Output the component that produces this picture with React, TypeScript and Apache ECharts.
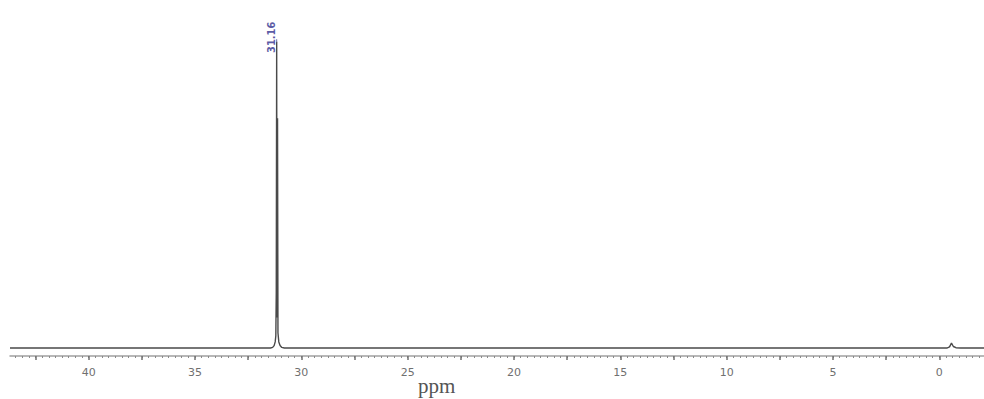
import React, { useEffect, useRef } from "react";
import * as echarts from "echarts";

// Chemical shift (ppm) and intensity of the spectrum trace
const shift = [
  43.7, 36.0, 31.45, 31.35, 31.28, 31.23, 31.2, 31.18, 31.16, 31.15, 31.14, 31.12,
  31.1, 31.06, 31.0, 30.92, 30.8, 20.0, 8.0, 0.2, -0.35, -0.48, -0.57, -0.66, -0.78, -1.0, -2.1,
];
const intensity = [
  0, 0, 0, 0.2, 0.8, 2.0, 4.0, 18, 100, 30, 10, 75,
  5, 2.0, 0.8, 0.2, 0, 0, 0, 0, 0, 0.4, 1.6, 0.5, 0.1, 0, 0,
];

// Axis ticks
const labelValues = [0, 5, 10, 15, 20, 25, 30, 35, 40];
const midTickValues = [0, 2.5, 5, 7.5, 10, 12.5, 15, 17.5, 20, 22.5, 25, 27.5, 30, 32.5, 35, 37.5, 40, 42.5];
const peakLabel = { shift: 31.16, text: "31.16" };

const X_MIN = -2.1;
const X_MAX = 43.7;

function minorTicks(): number[] {
  const out: number[] = [];
  const step = 2.5 / 8;
  for (let i = -6; i <= 140; i++) {
    const v = Math.round(i * step * 10000) / 10000;
    if (v >= X_MIN && v <= X_MAX) out.push(v);
  }
  return out;
}

export default function App() {
  const ref = useRef<HTMLDivElement>(null);

  useEffect(() => {
    if (!ref.current) return;
    const chart = echarts.init(ref.current, null, { renderer: "svg" });
    const data = shift.map((s, i) => [s, intensity[i]]);
    const peakIdx = shift.indexOf(peakLabel.shift);

    const baseAxis = {
      type: "value" as const,
      min: X_MIN,
      max: X_MAX,
      inverse: true,
      position: "bottom" as const,
      splitLine: { show: false },
    };

    chart.setOption({
      animation: false,
      backgroundColor: "#ffffff",
      grid: { left: 10, right: 0, top: 5, bottom: 43 },
      xAxis: [
        {
          ...baseAxis,
          axisLine: { show: true, onZero: false, lineStyle: { color: "#a0a0a0", width: 1.5 } },
          axisTick: {
            show: true,
            customValues: minorTicks(),
            length: 2,
            lineStyle: { color: "#8a8a8a", width: 1 },
          },
          axisLabel: { show: false },
        },
        {
          ...baseAxis,
          axisLine: { show: false, onZero: false },
          axisTick: {
            show: true,
            customValues: midTickValues,
            length: 4,
            lineStyle: { color: "#707070", width: 1.5 },
          },
          axisLabel: {
            show: true,
            customValues: labelValues,
            color: "#707070",
            fontFamily: "DejaVu Sans",
            fontSize: 11,
            margin: 11,
          },
        },
      ],
      yAxis: {
        type: "value",
        min: -2.6,
        max: 112,
        show: false,
      },
      series: [
        {
          type: "line",
          xAxisIndex: 0,
          data,
          showSymbol: false,
          symbol: "none",
          lineStyle: { color: "#4a4a4a", width: 1.4 },
          markPoint: {
            symbol: "rect",
            symbolSize: [1, 3],
            symbolOffset: [0, -1],
            itemStyle: { color: "#6a6aa8" },
            label: {
              show: true,
              formatter: peakLabel.text,
              rotate: 90,
              position: "top",
              distance: 2,
              color: "#5c5ca6",
              fontSize: 11,
              fontFamily: "DejaVu Sans Condensed",
              fontWeight: "bold",
            },
            data: [{ coord: [peakLabel.shift, intensity[peakIdx]] }],
          },
        },
      ],
      graphic: [
        {
          type: "text",
          left: 418,
          top: 375,
          style: {
            text: "ppm",
            fill: "#555555",
            font: "21px 'Liberation Serif'",
          },
        },
      ],
    });

    return () => chart.dispose();
  }, []);

  return (
    <div
      ref={ref}
      style={{ position: "fixed", left: 0, top: 0, width: 984, height: 399 }}
    />
  );
}
